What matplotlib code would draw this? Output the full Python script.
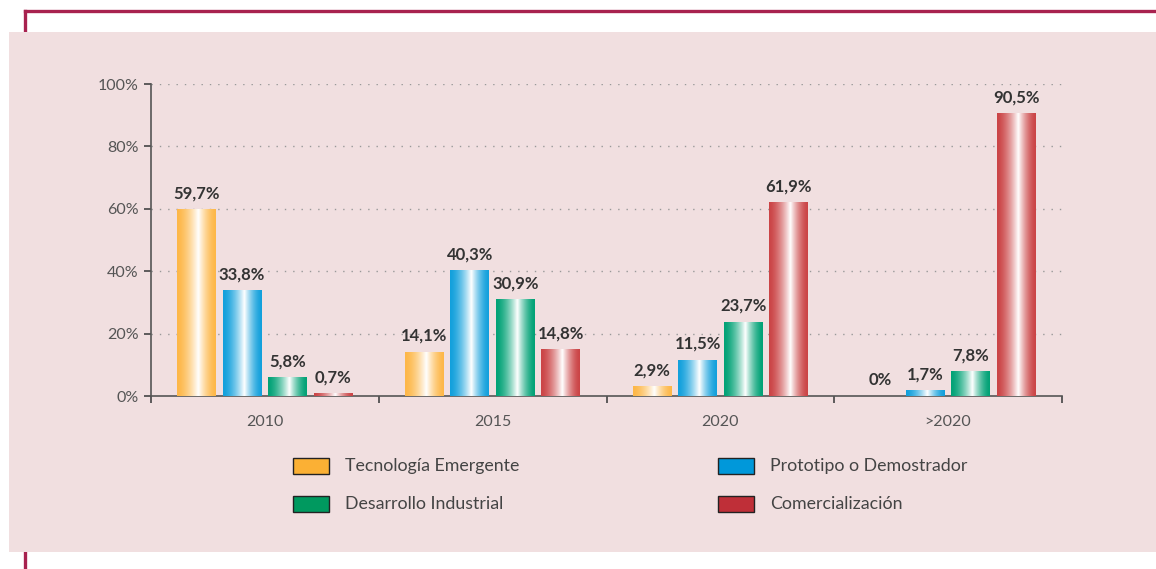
import numpy as np
import matplotlib
matplotlib.use("Agg")
import matplotlib.pyplot as plt
from matplotlib.patches import Rectangle
from matplotlib.lines import Line2D
from matplotlib.colors import to_rgb

categories = ["2010", "2015", "2020", ">2020"]
series_names = ["Tecnología Emergente", "Prototipo o Demostrador",
                "Desarrollo Industrial", "Comercialización"]
tecnologia = [59.7, 14.1, 2.9, 0.0]
prototipo = [33.8, 40.3, 11.5, 1.7]
desarrollo = [5.8, 30.9, 23.7, 7.8]
comercial = [0.7, 14.8, 61.9, 90.5]
value_labels = [
    ["59,7%", "14,1%", "2,9%", "0%"],
    ["33,8%", "40,3%", "11,5%", "1,7%"],
    ["5,8%", "30,9%", "23,7%", "7,8%"],
    ["0,7%", "14,8%", "61,9%", "90,5%"],
]
y_ticks = [0, 20, 40, 60, 80, 100]
y_ticklabels = ["0%", "20%", "40%", "60%", "80%", "100%"]

series = [tecnologia, prototipo, desarrollo, comercial]
bar_colors = ["#FDB748", "#12A0DC", "#02A276", "#CB4446"]
legend_colors = ["#FBB034", "#0098DA", "#00995F", "#BF2F38"]

plt.rcParams['font.family'] = ['Lato', 'DejaVu Sans']

W, H = 1156, 569
fig = plt.figure(figsize=(W / 100, H / 100), dpi=100)
fig.patch.set_facecolor("white")

def fx(px):
    return px / W

def fy(py):
    return 1 - py / H

# decorative frame
crimson = "#A8224F"
fig.add_artist(Line2D([fx(25), fx(1156)], [fy(11), fy(11)], color=crimson, lw=2.4,
                      transform=fig.transFigure, zorder=0))
fig.add_artist(Line2D([fx(25), fx(25)], [fy(11), fy(569)], color=crimson, lw=2.4,
                      transform=fig.transFigure, zorder=0))
fig.add_artist(Rectangle((fx(9), fy(552)), fx(1156) - fx(9), fy(32) - fy(552),
                         transform=fig.transFigure, facecolor="#F1DFE0",
                         edgecolor="none", zorder=1))

ax = fig.add_axes([fx(151), fy(396), fx(1062) - fx(151), fy(84) - fy(396)])
ax.set_facecolor("none")
ax.set_zorder(2)

x = np.arange(len(categories))
offsets = [-0.3, -0.1, 0.1, 0.3]
width = 0.171

t = np.linspace(0, 1, 200)
d = np.where(t > 0.55, (t - 0.55) / 0.45, (0.55 - t) / 0.55)
whiteness = np.clip(1 - d, 0, 1) ** 1.6

for si, (vals, col) in enumerate(zip(series, bar_colors)):
    bars = ax.bar(x + offsets[si], vals, width=width, facecolor="none",
                  edgecolor="none", zorder=3)
    base = np.array(to_rgb(col))
    grad = base[None, :] * (1 - whiteness[:, None]) + np.ones(3)[None, :] * whiteness[:, None]
    img = grad[None, :, :]
    for bi, rect in enumerate(bars):
        bx, by = rect.get_x(), rect.get_y()
        bw, bh = rect.get_width(), rect.get_height()
        if bh > 0:
            ax.imshow(img, extent=[bx, bx + bw, by, by + bh], aspect="auto",
                      zorder=3, interpolation="bilinear")
        ax.text(bx + bw / 2, bh + 2.6, value_labels[si][bi], ha="center",
                va="bottom", fontsize=12, fontweight="bold", color="#333333",
                zorder=4)

ax.set_xlim(-0.5, len(categories) - 0.5)
ax.set_ylim(0, 100)

ax.set_yticks(y_ticks)
ax.set_yticklabels(y_ticklabels, fontsize=11.5, color="#555555")
ax.set_xticks(x)
ax.set_xticklabels(categories, fontsize=11.5, color="#555555")
ax.tick_params(axis="x", which="major", length=0, pad=14)
ax.set_xticks(np.arange(-0.5, len(categories)), minor=True)
ax.tick_params(axis="x", which="minor", length=5, width=1.2, color="#444444",
               direction="out")
ax.tick_params(axis="y", length=5, width=1.2, color="#444444", pad=4)

for s in ["top", "right"]:
    ax.spines[s].set_visible(False)
for s in ["left", "bottom"]:
    ax.spines[s].set_color("#555555")
    ax.spines[s].set_linewidth(1.2)

for yv in y_ticks[1:]:
    ax.axhline(yv, color="#999999", lw=1, linestyle=(0, (1, 5)), zorder=2)

# legend
leg_pos = [(293, 466), (718, 466), (293, 504), (718, 504)]
order = [0, 1, 2, 3]
for (px, py), i in zip(leg_pos, order):
    fig.add_artist(Rectangle((fx(px), fy(py + 8)), fx(36), 16 / H,
                             transform=fig.transFigure,
                             facecolor=legend_colors[i], edgecolor="#222222",
                             lw=1, zorder=5))
    fig.text(fx(px + 52), fy(py), series_names[i], ha="left", va="center",
             fontsize=12.8, color="#444444", zorder=5)

fig.savefig("out.png", dpi=100)
